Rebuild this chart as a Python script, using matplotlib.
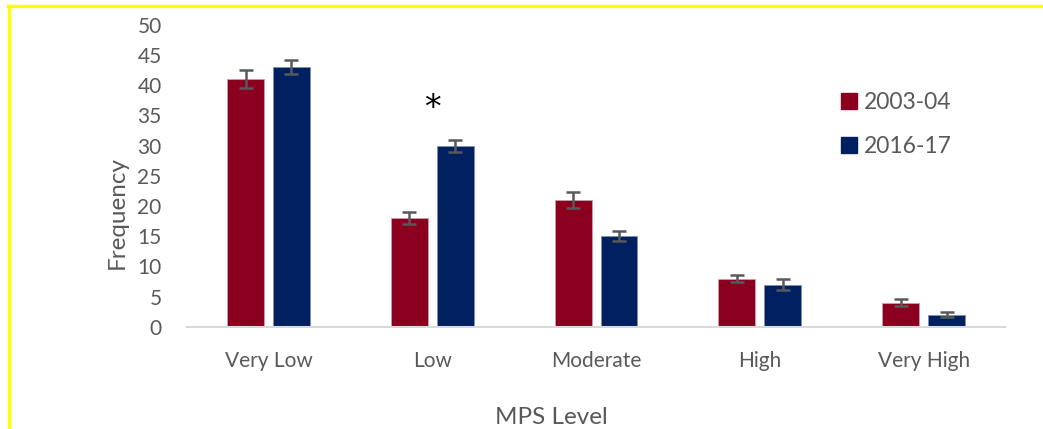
import numpy as np
import matplotlib.pyplot as plt
from matplotlib.lines import Line2D

levels = ['Very Low', 'Low', 'Moderate', 'High', 'Very High']
freq_0304 = [41, 18, 21, 8, 4]
freq_1617 = [43, 30, 15, 7, 2]
err_0304 = [1.5, 1.0, 1.3, 0.55, 0.55]
err_1617 = [1.2, 1.0, 0.8, 0.85, 0.4]

red = '#8C001F'
blue = '#002060'
grey = '#595959'

plt.rcParams['font.family'] = ['Lato', 'DejaVu Sans']

fig = plt.figure(figsize=(10.43, 4.29), dpi=100)
ax = fig.add_axes([0.179, 0.238, 0.785, 0.704])

x = np.arange(len(levels))
w = 0.225
ax.bar(x - 0.14, freq_0304, w, color=red, edgecolor='#C9A0A8', linewidth=0.6, label='2003-04')
ax.bar(x + 0.14, freq_1617, w, color=blue, edgecolor='#7F8FB0', linewidth=0.6, label='2016-17')
ax.errorbar(x - 0.14, freq_0304, yerr=err_0304, fmt='none', ecolor=grey, elinewidth=1.8, capsize=5, capthick=1.8)
ax.errorbar(x + 0.14, freq_1617, yerr=err_1617, fmt='none', ecolor=grey, elinewidth=1.8, capsize=5, capthick=1.8)

ax.text(1, 36.1, '*', ha='center', va='center', fontsize=24, color='black', family='DejaVu Sans')

ax.set_xlim(-0.5, 4.5)
ax.set_ylim(0, 50)
ax.set_yticks(range(0, 51, 5))
ax.set_xticks(x)
ax.set_xticklabels(levels)
for s in ['top', 'right', 'left']:
    ax.spines[s].set_visible(False)
ax.spines['bottom'].set_color('#D9D9D9')
ax.spines['bottom'].set_linewidth(1.5)
ax.tick_params(axis='both', length=0, labelsize=15, colors=grey)
ax.tick_params(axis='x', pad=17)
ax.tick_params(axis='y', pad=18)
ax.set_ylabel('Frequency', fontsize=17.5, color=grey)
ax.yaxis.set_label_coords(-0.072, 0.38)
ax.set_xlabel('MPS Level', fontsize=17.5, color=grey)
ax.xaxis.set_label_coords(0.446, -0.265)

leg_handles = [Line2D([], [], marker='s', linestyle='none', color=red, markersize=11),
               Line2D([], [], marker='s', linestyle='none', color=blue, markersize=11)]
ax.legend(leg_handles, ['2003-04', '2016-17'], loc='upper left', bbox_to_anchor=(0.77, 0.845),
          frameon=False, fontsize=16.5, labelcolor=grey, handletextpad=0.15, labelspacing=1.0,
          handlelength=1.0)

# yellow frame (top and left edges)
fig.add_artist(Line2D([0.0078, 1.0], [0.987, 0.987], color='#FFFF00', linewidth=2.4, transform=fig.transFigure))
fig.add_artist(Line2D([0.0091, 0.0091], [0.0, 0.987], color='#FFFF00', linewidth=2.4, transform=fig.transFigure))

fig.savefig('out.png', dpi=100)
